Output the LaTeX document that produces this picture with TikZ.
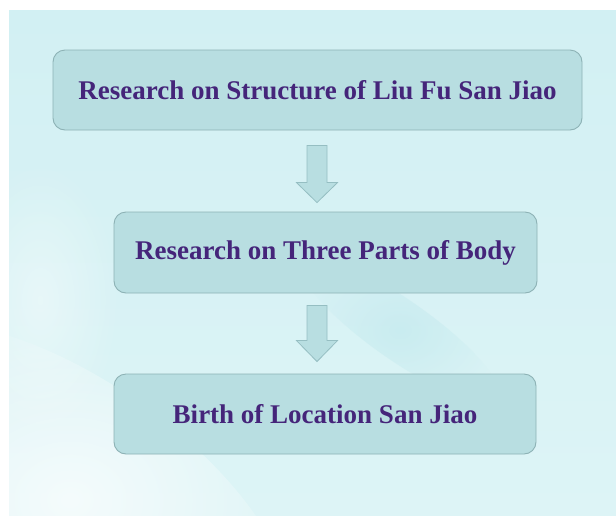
\documentclass[tikz,border=0pt]{standalone}
\usepackage{fontspec}
\setmainfont{Liberation Serif}
\usetikzlibrary{calc,fadings}
\definecolor{bgtop}{HTML}{D2F0F3}
\definecolor{bgbot}{HTML}{DDF4F6}
\definecolor{boxfill}{HTML}{B8DEE1}
\definecolor{boxline}{HTML}{8DB2B5}
\definecolor{arrline}{HTML}{95BEC2}
\definecolor{txt}{HTML}{45257A}
\definecolor{streak}{HTML}{B6E4EA}
\tikzfading[name=softspot, inner color=transparent!0, outer color=transparent!100]
\tikzset{
  stagebox/.style={draw=boxline, line width=0.9pt, fill=boxfill, rounded corners=12pt,
    inner sep=0pt, text=txt, font=\bfseries\fontsize{27}{30}\selectfont},
  blockarr/.style={draw=arrline, line width=0.8pt, fill=boxfill, line join=miter}
}
\begin{document}
\begin{tikzpicture}[x=1pt,y=-1pt]
\useasboundingbox (0,0) rectangle (616,515);
\fill[white] (0,0) rectangle (616,515);
\shade[top color=bgtop, bottom color=bgbot] (9,10) rectangle (616,515);
\begin{scope}
\clip (9,10) rectangle (616,515);
\fill[white, opacity=0.7, path fading=softspot, fit fading=true, rotate around={-35:(70,500)}] (70,500) ellipse (260pt and 120pt);
\fill[white, opacity=0.4, path fading=softspot, fit fading=true] (40,300) ellipse (80pt and 140pt);
\fill[streak, opacity=0.45, path fading=softspot, fit fading=true, rotate around={-35:(400,330)}] (400,330) ellipse (120pt and 30pt);
\end{scope}

\node[stagebox, minimum width=529pt, minimum height=80pt] (b1) at (317.5,90) {Research on Structure of Liu Fu San Jiao};
\node[stagebox, minimum width=423pt, minimum height=81pt] (b2) at (325.5,252.5) {Research on Three Parts of Body};
\node[stagebox, minimum width=422pt, minimum height=80pt] (b3) at (325,414) {Birth of Location San Jiao};

\coordinate (a1t) at ($(b1.south)+(-0.5,15)$);
\coordinate (a1b) at ($(b1.south |- b2.north)+(-0.5,-9)$);
\coordinate (a2t) at ($(b1.south |- b2.south)+(-0.5,12)$);
\coordinate (a2b) at ($(b1.south |- b3.north)+(-0.5,-12)$);

\draw[blockarr] let \p1=(a1t), \p2=(a1b) in
  (\x1-10pt,\y1) -- (\x1+10pt,\y1) -- (\x1+10pt,\y2+20pt) -- (\x1+20.5pt,\y2+20pt)
  -- (\x1,\y2) -- (\x1-20.5pt,\y2+20pt) -- (\x1-10pt,\y2+20pt) -- cycle;
\draw[blockarr] let \p1=(a2t), \p2=(a2b) in
  (\x1-10pt,\y1) -- (\x1+10pt,\y1) -- (\x1+10pt,\y2+21pt) -- (\x1+20.5pt,\y2+21pt)
  -- (\x1,\y2) -- (\x1-20.5pt,\y2+21pt) -- (\x1-10pt,\y2+21pt) -- cycle;
\end{tikzpicture}
\end{document}
